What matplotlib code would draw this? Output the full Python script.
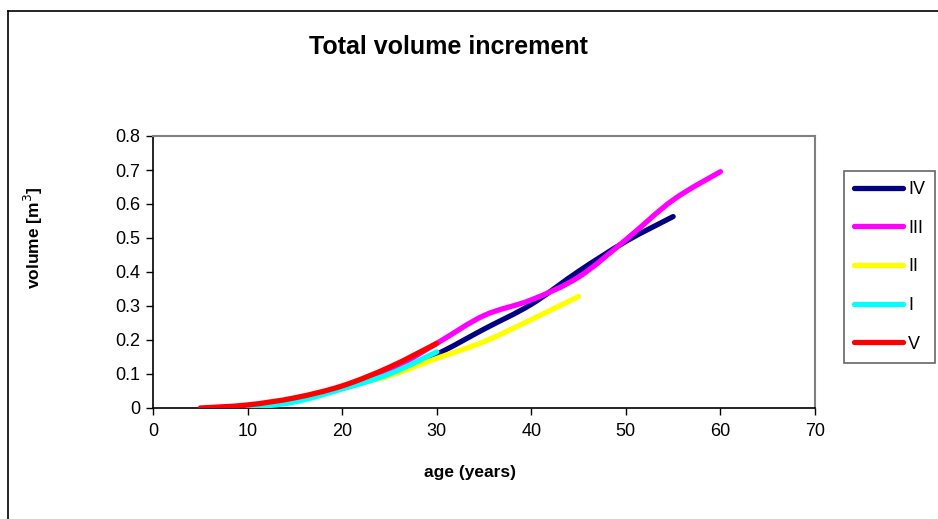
import matplotlib
matplotlib.use("Agg")
import matplotlib.pyplot as plt
from matplotlib.path import Path
from matplotlib.patches import PathPatch
from matplotlib.lines import Line2D
import numpy as np

plt.rcParams['font.family'] = ['Liberation Sans', 'DejaVu Sans']

# ---- data ----
age_IV = [15, 20, 25, 30, 35, 40, 45, 50, 55]
vol_IV = [0.02, 0.058, 0.10, 0.158, 0.232, 0.305, 0.402, 0.49, 0.563]

age_III = [15, 20, 25, 30, 35, 40, 45, 50, 55, 60]
vol_III = [0.02, 0.06, 0.11, 0.19, 0.272, 0.318, 0.385, 0.495, 0.612, 0.695]

age_II = [15, 20, 25, 30, 35, 40, 45]
vol_II = [0.02, 0.06, 0.095, 0.146, 0.195, 0.26, 0.328]

age_I = [10, 15, 20, 25, 30]
vol_I = [0.0, 0.018, 0.056, 0.10, 0.165]

age_V = [5, 10, 15, 20, 25, 30]
vol_V = [0.0, 0.009, 0.03, 0.065, 0.12, 0.19]

series_names = ['IV', 'III', 'II', 'I', 'V']
series_ages = [age_IV, age_III, age_II, age_I, age_V]
series_vols = [vol_IV, vol_III, vol_II, vol_I, vol_V]
series_colors = ['#000080', '#FF00FF', '#FFFF00', '#00FFFF', '#FF0000']

x_ticks = [0, 10, 20, 30, 40, 50, 60, 70]
y_ticks = [0, 0.1, 0.2, 0.3, 0.4, 0.5, 0.6, 0.7, 0.8]
y_tick_labels = ['0', '0.1', '0.2', '0.3', '0.4', '0.5', '0.6', '0.7', '0.8']


def smooth_path(xs, ys):
    """Excel-like smoothed line: cubic Bezier segments (Catmull-Rom control points)."""
    P = np.column_stack([xs, ys]).astype(float)
    n = len(P)
    verts = [P[0]]
    codes = [Path.MOVETO]
    for i in range(n - 1):
        p0 = P[i - 1] if i > 0 else P[i]
        p1 = P[i]
        p2 = P[i + 1]
        p3 = P[i + 2] if i + 2 < n else P[i + 1]
        c1 = p1 + (p2 - p0) / 6.0
        c2 = p2 - (p3 - p1) / 6.0
        verts += [c1, c2, p2]
        codes += [Path.CURVE4] * 3
    return Path(verts, codes)


W, H = 938, 519
fig = plt.figure(figsize=(W / 100, H / 100), dpi=100)
fig.patch.set_facecolor('white')

# outer chart border (left and top visible)
fig.add_artist(Line2D([8 / W, 8 / W], [0, 1 - 11 / H], transform=fig.transFigure,
                      color='black', lw=1.2))
fig.add_artist(Line2D([8 / W, 1], [1 - 11 / H, 1 - 11 / H], transform=fig.transFigure,
                      color='black', lw=1.2))

ax = fig.add_axes([153 / W, 1 - 408 / H, (815 - 153) / W, (408 - 136) / H])
ax.set_xlim(0, 70)
ax.set_ylim(0, 0.8)

for name, xs, ys, col in zip(series_names, series_ages, series_vols, series_colors):
    patch = PathPatch(smooth_path(xs, ys), facecolor='none', edgecolor=col,
                      lw=3.8, capstyle='round', joinstyle='round', zorder=3)
    ax.add_patch(patch)

ax.set_xticks(x_ticks)
ax.set_xticklabels([str(v) for v in x_ticks])
ax.set_yticks(y_ticks)
ax.set_yticklabels(y_tick_labels)
ax.tick_params(direction='out', length=5, width=1, colors='black', labelsize=13,
               pad=4)
ax.tick_params(axis='x', pad=6)

for s in ['top', 'right']:
    ax.spines[s].set_color('#808080')
    ax.spines[s].set_linewidth(1.5)
for s in ['left', 'bottom']:
    ax.spines[s].set_color('black')
    ax.spines[s].set_linewidth(1.2)

fig.text(448 / W, 1 - 47 / H, 'Total volume increment', ha='center', va='center',
         fontsize=18, fontweight='bold')
fig.text(470 / W, 1 - 473 / H, 'age (years)', ha='center', va='center',
         fontsize=12.5, fontweight='bold')
fig.text(33 / W, 1 - 238 / H, 'volume [m$^3$]', ha='center', va='center',
         rotation=90, fontsize=12.5, fontweight='bold')

handles = [Line2D([], [], color=c, lw=3.8, solid_capstyle='round')
           for c in series_colors]
leg = fig.legend(handles, series_names, loc='upper left',
                 bbox_to_anchor=(844 / W, 1 - 171 / H), frameon=True,
                 fancybox=False, fontsize=13, handlelength=2.7,
                 handletextpad=0.3, labelspacing=1.2, borderpad=0.55,
                 borderaxespad=0)
leg.get_frame().set_edgecolor('#404040')
leg.get_frame().set_linewidth(1.2)

fig.savefig('out.png', dpi=100, facecolor='white')
